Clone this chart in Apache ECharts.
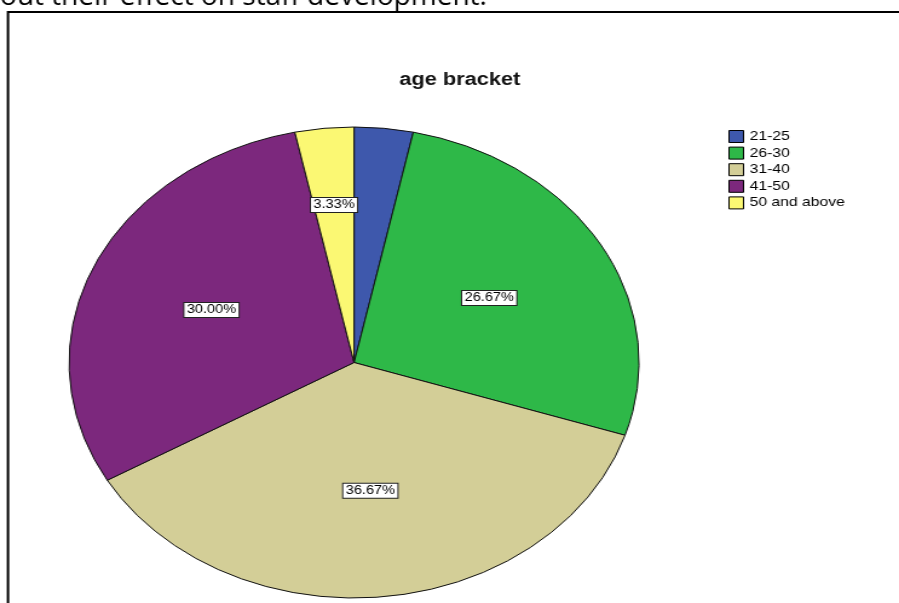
<!DOCTYPE html>
<html>
<head>
<meta charset="utf-8">
<script src="https://cdn.jsdelivr.net/npm/echarts@6/dist/echarts.min.js"></script>
<style>
  html, body { margin: 0; padding: 0; background: #fff; overflow: hidden; }
  #wrap { width: 899px; height: 603px; overflow: hidden; position: relative; }
  /* SPSS output chart was stretched horizontally; reproduce by scaling the chart canvas */
  #chart { width: 743px; height: 603px; transform: scaleX(1.21); transform-origin: 0 0; }
</style>
</head>
<body>
<div id="wrap"><div id="chart"></div></div>
<script>
// ---- data ----
const categories = ['21-25', '26-30', '31-40', '41-50', '50 and above'];
const counts = [1, 8, 11, 9, 1];
const colors = ['#3E58AC', '#2EB848', '#D3CE97', '#7C287D', '#FBF873'];
const hiddenLabels = ['21-25'];
const titleText = 'age bracket';
const pageText = 'out their effect on staff development.';

const STRETCH = 1.21;
const total = counts.reduce((a, b) => a + b, 0);
const R = 235.5;
const center = [292.6, 362.5];

const labelStyle = {
  show: true,
  position: 'inside',
  formatter: p => p.percent.toFixed(2) + '%',
  fontFamily: 'Liberation Sans, Arial, sans-serif',
  fontSize: 12,
  color: '#000',
  backgroundColor: '#fff',
  borderColor: '#222',
  borderWidth: 1,
  padding: [1, 2, 0, 2],
  lineHeight: 13
};

function labelData(filter) {
  return categories.map((c, i) => {
    const share = counts[i] / total * 100;
    const show = filter(share) && hiddenLabels.indexOf(c) < 0;
    return { name: c, value: counts[i], label: { show: show } };
  });
}

const chart = echarts.init(document.getElementById('chart'), null, { renderer: 'canvas' });
chart.setOption({
  backgroundColor: '#fff',
  animation: false,
  color: colors,
  title: {
    text: titleText,
    left: 330,
    top: 71,
    padding: 0,
    textStyle: { fontFamily: 'Liberation Sans, Arial, sans-serif', fontWeight: 'bold', fontSize: 18, color: '#111' }
  },
  legend: {
    orient: 'vertical',
    left: 602,
    top: 130,
    padding: 0,
    itemWidth: 12,
    itemHeight: 12,
    itemGap: 3.6,
    icon: 'rect',
    data: categories,
    itemStyle: { borderColor: '#000', borderWidth: 1 },
    textStyle: { fontFamily: 'Liberation Sans, Arial, sans-serif', fontSize: 13, color: '#000', lineHeight: 12 }
  },
  graphic: [
    {
      type: 'rect',
      shape: { x: 6.6, y: 12, width: 900, height: 800 },
      style: { fill: 'none', stroke: '#000', lineWidth: 2 },
      silent: true
    },
    {
      type: 'text',
      x: 0,
      y: -3,
      scaleX: 1 / STRETCH,
      style: {
        text: pageText,
        fontFamily: 'Open Sans, sans-serif',
        fontSize: 28,
        fill: '#000',
        verticalAlign: 'middle'
      },
      silent: true
    }
  ],
  series: [
    {
      type: 'pie',
      center: center,
      radius: [0, R],
      startAngle: 90,
      clockwise: true,
      silent: true,
      avoidLabelOverlap: false,
      itemStyle: { borderColor: '#111', borderWidth: 1 },
      label: { show: false },
      labelLine: { show: false },
      emphasis: { disabled: true },
      data: categories.map((c, i) => ({ name: c, value: counts[i] }))
    },
    {
      type: 'pie',
      center: center,
      radius: [0, R * 1.07],
      startAngle: 90,
      clockwise: true,
      silent: true,
      avoidLabelOverlap: false,
      itemStyle: { color: 'rgba(0,0,0,0)', borderWidth: 0 },
      label: labelStyle,
      labelLine: { show: false },
      emphasis: { disabled: true },
      legendHoverLink: false,
      data: labelData(s => s >= 5)
    },
    {
      type: 'pie',
      center: center,
      radius: [0, R * 1.32],
      startAngle: 90,
      clockwise: true,
      silent: true,
      avoidLabelOverlap: false,
      itemStyle: { color: 'rgba(0,0,0,0)', borderWidth: 0 },
      label: labelStyle,
      labelLine: { show: false },
      emphasis: { disabled: true },
      legendHoverLink: false,
      data: labelData(s => s < 5)
    }
  ]
});
</script>
</body>
</html>
